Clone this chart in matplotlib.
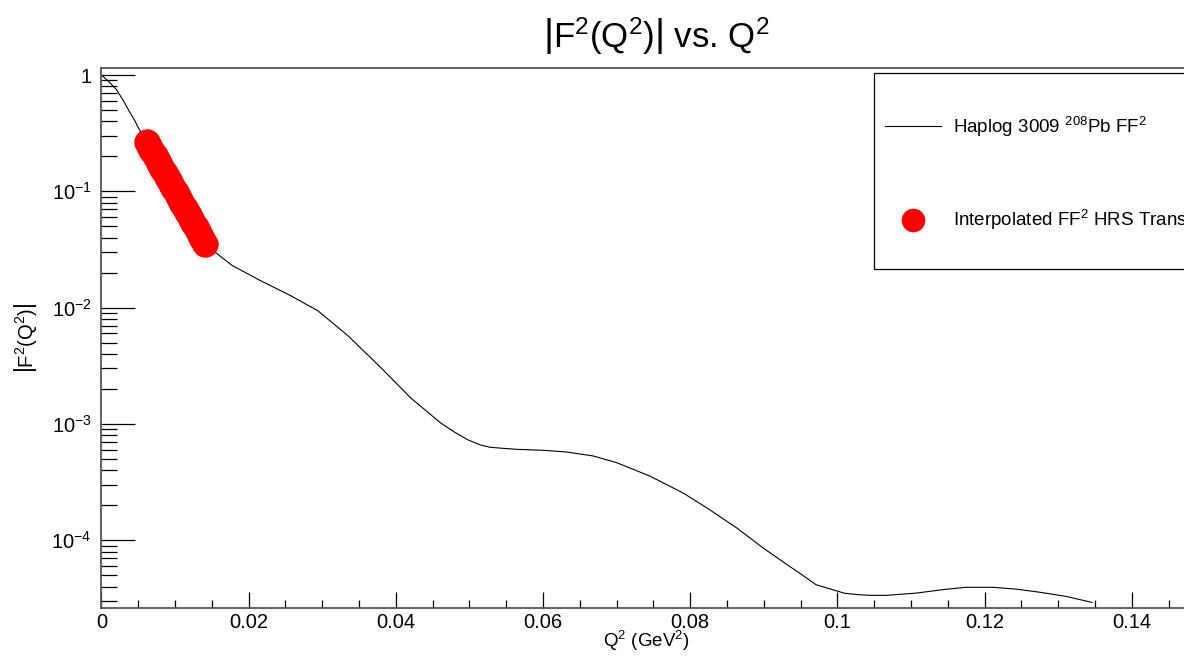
import numpy as np
import matplotlib
matplotlib.use('Agg')
import matplotlib.pyplot as plt
from matplotlib.patches import Rectangle
from matplotlib.ticker import MultipleLocator, LogLocator, FuncFormatter, NullFormatter

plt.rcParams['font.family'] = ['Liberation Sans', 'DejaVu Sans']
plt.rcParams['mathtext.fontset'] = 'custom'
plt.rcParams['mathtext.rm'] = 'Liberation Sans'
plt.rcParams['mathtext.it'] = 'Liberation Sans:italic'
plt.rcParams['mathtext.bf'] = 'Liberation Sans:bold'
plt.rcParams['mathtext.default'] = 'regular'

# Haplog 3009 208Pb form factor squared
q2_curve = [0.0, 0.0010, 0.0021, 0.0030, 0.0037, 0.0045, 0.0052, 0.0062, 0.0080,
            0.0100, 0.0120, 0.0141, 0.0155, 0.0178, 0.0216, 0.0257, 0.0294, 0.0335,
            0.0380, 0.0420, 0.0461, 0.0480, 0.0498, 0.0515, 0.0528, 0.0564, 0.0600,
            0.0632, 0.0668, 0.0700, 0.0745, 0.0790, 0.0826, 0.0863, 0.0899, 0.0935,
            0.0949, 0.0971, 0.0985, 0.1010, 0.1030, 0.1045, 0.1066, 0.1107, 0.1143,
            0.1175, 0.1211, 0.1243, 0.1274, 0.1311, 0.1346]
ff2_curve = [1.0, 0.88, 0.743, 0.60, 0.50, 0.41, 0.336, 0.266, 0.168,
             0.101, 0.060, 0.0354, 0.0298, 0.0230, 0.0171, 0.0127, 0.00942, 0.00574,
             0.00304, 0.00168, 0.00102, 8.5e-4, 7.3e-4, 6.6e-4, 6.3e-4, 6.05e-4, 5.94e-4,
             5.74e-4, 5.31e-4, 4.65e-4, 3.57e-4, 2.56e-4, 1.84e-4, 1.28e-4, 8.6e-5, 5.97e-5,
             5.2e-5, 4.15e-5, 3.9e-5, 3.5e-5, 3.40e-5, 3.36e-5, 3.36e-5, 3.51e-5, 3.76e-5,
             3.94e-5, 3.94e-5, 3.80e-5, 3.58e-5, 3.29e-5, 2.92e-5]

# interpolated FF^2 over the HRS acceptance
q2_hrs = [0.0062, 0.0065, 0.0068, 0.0071, 0.0074, 0.0077, 0.0080, 0.0083, 0.0086,
          0.0089, 0.0092, 0.0095, 0.0098, 0.0101, 0.0104, 0.0107, 0.0110, 0.0113,
          0.0116, 0.0119, 0.0122, 0.0125, 0.0128, 0.0131, 0.0134, 0.0137, 0.0141]
ff2_hrs = [0.266, 0.246, 0.228, 0.211, 0.196, 0.182, 0.168, 0.156, 0.144,
           0.134, 0.124, 0.115, 0.106, 0.0984, 0.0911, 0.0843, 0.0781, 0.0724,
           0.0670, 0.0621, 0.0575, 0.0533, 0.0493, 0.0457, 0.0424, 0.0392, 0.0354]

fig = plt.figure(figsize=(11.84, 6.6), dpi=100)
ax = fig.add_axes([0.0856, 0.0795, 0.92, 0.8175])

ax.plot(q2_curve, ff2_curve, color='black', lw=0.8,
        label=r'Haplog 3009 $^{208}$Pb FF$^{2}$')
ax.plot(q2_hrs, ff2_hrs, 'o', color='#ff0000', markersize=19, markeredgewidth=0,
        label=r'Interpolated FF$^{2}$ HRS Transmission')

ax.set_yscale('log')
ax.set_xlim(0, 0.148)
ax.set_ylim(2.64e-5, 1.15)

ax.xaxis.set_major_locator(MultipleLocator(0.02))
ax.xaxis.set_minor_locator(MultipleLocator(0.005))
ax.xaxis.set_major_formatter(FuncFormatter(lambda v, p: '0' if v == 0 else f'{v:g}'))
ax.yaxis.set_major_locator(LogLocator(base=10))
ax.yaxis.set_minor_locator(LogLocator(base=10, subs=np.arange(2, 10)))
ax.yaxis.set_minor_formatter(NullFormatter())


def log_fmt(v, p):
    e = int(round(np.log10(v)))
    return '1' if e == 0 else r'$10^{%d}$' % e


ax.yaxis.set_major_formatter(FuncFormatter(log_fmt))

ax.tick_params(axis='both', which='both', direction='in', top=False, right=False,
               width=0.9, color='black', labelsize=14.5)
ax.tick_params(axis='x', which='major', length=11.5, pad=4)
ax.tick_params(axis='x', which='minor', length=5.8)
ax.tick_params(axis='y', which='major', length=24.5, pad=7)
ax.tick_params(axis='y', which='minor', length=11.5)

for s in ax.spines.values():
    s.set_color('#555555')
    s.set_linewidth(1.3)

ax.set_xlabel(r'Q$^{2}$ (GeV$^{2}$)', fontsize=13.5, va='top')
ax.xaxis.set_label_coords(0.5, -0.040)
ax.set_ylabel(r'$\left|F^{2}(Q^{2})\right|$', fontsize=14.5)
ax.yaxis.set_label_coords(-0.057, 0.5)

fig.text(0.554, 1 - 48 / 660, r'$\left|F^{2}(Q^{2})\right|$ vs. Q$^{2}$',
         fontsize=25, ha='center', va='baseline')

# legend box (extends past the right edge like the original)
ax.add_patch(Rectangle((0.709, 0.627), 0.5, 0.364, transform=ax.transAxes,
                       facecolor='white', edgecolor='black', lw=0.9,
                       clip_on=False, zorder=5))
leg = ax.legend(loc='upper left', bbox_to_anchor=(0.7195, 0.913), frameon=False,
                borderpad=0, borderaxespad=0, fontsize=13.5, handlelength=3.0,
                handletextpad=0.62, labelspacing=3.7, numpoints=1)
leg.set_zorder(6)
for h in leg.legend_handles:
    if h.get_marker() == 'o':
        h.set_markersize(17)

fig.savefig('out.png', dpi=100)
